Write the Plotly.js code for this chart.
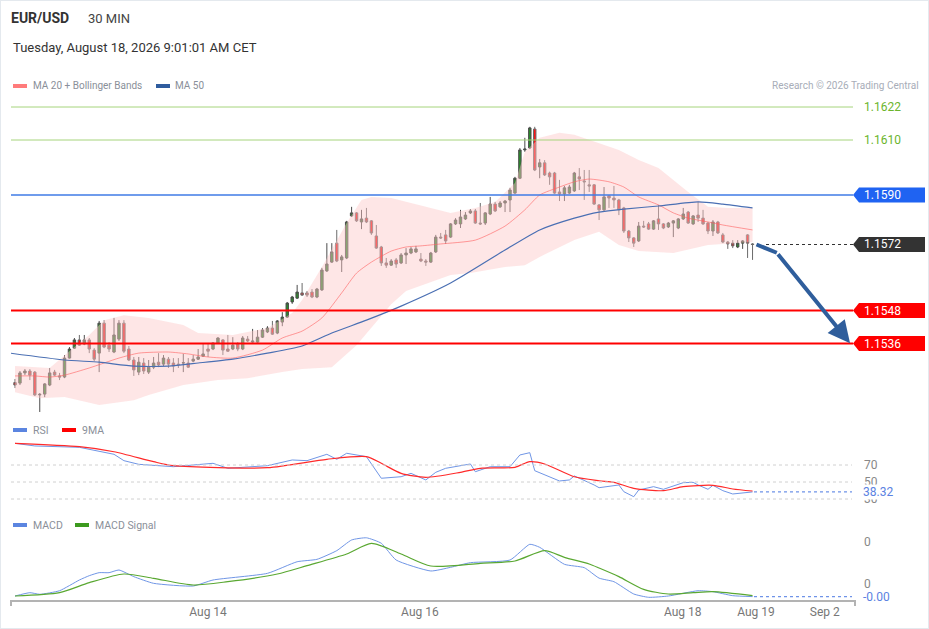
<!DOCTYPE html>
<html><head><meta charset="utf-8">
<script src="https://cdn.plot.ly/plotly-3.0.1.min.js"></script>
<style>
html,body{margin:0;padding:0;background:#fff;}
#chart{width:929px;height:629px;}
#frame{position:absolute;left:0;top:0;width:929px;height:629px;box-sizing:border-box;border:1px solid #e4e9ee;pointer-events:none;}
</style>
</head><body><div id="chart"></div><div id="frame"></div>
<script>
// ---------- DATA ----------
const opens = [
1.15218,1.15216,1.15253,1.15260,1.15256,1.15173,1.15176,1.15209,1.15256,1.15242,
1.15238,1.15307,1.15343,1.15373,1.15358,1.15373,1.15336,1.15325,1.15434,1.15354,
1.15329,1.15376,1.15434,1.15340,1.15300,1.15256,1.15289,1.15256,1.15274,1.15292,
1.15285,1.15303,1.15289,1.15285,1.15289,1.15289,1.15296,1.15303,1.15314,1.15340,
1.15340,1.15362,1.15373,1.15340,1.15340,1.15358,1.15340,1.15376,1.15365,1.15365,
1.15383,1.15402,1.15416,1.15398,1.15438,1.15456,1.15511,1.15525,1.15544,1.15544,
1.15547,1.15529,1.15555,1.15624,1.15656,1.15725,1.15664,1.15671,1.15824,1.15835,
1.15802,1.15816,1.15806,1.15751,1.15711,1.15653,1.15645,1.15664,1.15653,1.15682,
1.15689,1.15693,1.15667,1.15660,1.15656,1.15693,1.15747,1.15755,1.15747,1.15795,
1.15795,1.15813,1.15835,1.15842,1.15798,1.15798,1.15831,1.15867,1.15857,1.15871,
1.15882,1.15907,1.15961,1.16064,1.16071,1.16140,1.16002,1.16017,1.15980,1.15980,
1.15911,1.15904,1.15907,1.15915,1.15966,1.15951,1.15937,1.15937,1.15864,1.15846,
1.15897,1.15889,1.15882,1.15853,1.15769,1.15744,1.15733,1.15787,1.15795,1.15776,
1.15813,1.15795,1.15784,1.15798,1.15780,1.15813,1.15838,1.15795,1.15827,1.15816,
1.15798,1.15769,1.15802,1.15755,1.15729,1.15725,1.15711,1.15725,1.15755,1.15722];
const highs = [
1.15231,1.15260,1.15267,1.15267,1.15260,1.15180,1.15216,1.15271,1.15264,1.15253,
1.15318,1.15347,1.15380,1.15391,1.15391,1.15380,1.15343,1.15442,1.15445,1.15365,
1.15453,1.15445,1.15445,1.15351,1.15311,1.15311,1.15307,1.15300,1.15311,1.15325,
1.15318,1.15311,1.15307,1.15307,1.15322,1.15307,1.15318,1.15340,1.15358,1.15362,
1.15365,1.15383,1.15376,1.15391,1.15383,1.15365,1.15387,1.15387,1.15413,1.15409,
1.15416,1.15423,1.15442,1.15445,1.15474,1.15511,1.15533,1.15573,1.15580,1.15551,
1.15558,1.15562,1.15635,1.15725,1.15725,1.15773,1.15682,1.15806,1.15857,1.15838,
1.15846,1.15853,1.15809,1.15791,1.15715,1.15671,1.15667,1.15671,1.15689,1.15707,
1.15711,1.15715,1.15689,1.15667,1.15693,1.15755,1.15762,1.15773,1.15798,1.15816,
1.15846,1.15838,1.15849,1.15849,1.15871,1.15838,1.15893,1.15875,1.15878,1.15882,
1.15926,1.15966,1.16071,1.16108,1.16148,1.16148,1.16031,1.16027,1.15985,1.15984,
1.15955,1.15933,1.15937,1.15984,1.15998,1.15991,1.15991,1.15940,1.15867,1.15929,
1.15900,1.15933,1.15886,1.15857,1.15773,1.15747,1.15802,1.15806,1.15802,1.15809,
1.15864,1.15798,1.15802,1.15809,1.15816,1.15853,1.15842,1.15827,1.15875,1.15846,
1.15802,1.15809,1.15806,1.15762,1.15733,1.15736,1.15736,1.15736,1.15758,1.15725];
const lows = [
1.15198,1.15209,1.15245,1.15227,1.15169,1.15111,1.15165,1.15205,1.15242,1.15227,
1.15234,1.15305,1.15340,1.15351,1.15354,1.15325,1.15296,1.15256,1.15343,1.15329,
1.15325,1.15369,1.15325,1.15296,1.15242,1.15245,1.15249,1.15249,1.15267,1.15274,
1.15278,1.15271,1.15256,1.15271,1.15256,1.15271,1.15292,1.15300,1.15311,1.15311,
1.15336,1.15358,1.15318,1.15330,1.15336,1.15332,1.15336,1.15365,1.15362,1.15362,
1.15380,1.15398,1.15391,1.15394,1.15423,1.15453,1.15504,1.15522,1.15533,1.15529,
1.15525,1.15525,1.15551,1.15620,1.15653,1.15656,1.15620,1.15667,1.15820,1.15802,
1.15776,1.15798,1.15755,1.15704,1.15642,1.15635,1.15642,1.15635,1.15649,1.15649,
1.15685,1.15689,1.15656,1.15642,1.15653,1.15689,1.15740,1.15722,1.15744,1.15791,
1.15780,1.15809,1.15831,1.15795,1.15791,1.15791,1.15827,1.15838,1.15853,1.15838,
1.15838,1.15904,1.15958,1.16057,1.16067,1.15987,1.15961,1.15969,1.15937,1.15904,
1.15878,1.15878,1.15904,1.15911,1.15918,1.15882,1.15911,1.15864,1.15809,1.15842,
1.15853,1.15853,1.15827,1.15762,1.15729,1.15711,1.15729,1.15780,1.15773,1.15773,
1.15773,1.15776,1.15780,1.15747,1.15776,1.15809,1.15795,1.15791,1.15802,1.15791,
1.15758,1.15751,1.15758,1.15725,1.15704,1.15707,1.15707,1.15704,1.15671,1.15664];
const closes = [
1.15209,1.15253,1.15260,1.15245,1.15173,1.15175,1.15213,1.15253,1.15245,1.15238,
1.15307,1.15340,1.15373,1.15354,1.15373,1.15340,1.15303,1.15434,1.15347,1.15340,
1.15391,1.15434,1.15332,1.15300,1.15264,1.15292,1.15260,1.15274,1.15289,1.15282,
1.15307,1.15285,1.15278,1.15283,1.15290,1.15274,1.15303,1.15311,1.15322,1.15332,
1.15362,1.15380,1.15336,1.15332,1.15354,1.15340,1.15380,1.15369,1.15369,1.15383,
1.15409,1.15416,1.15394,1.15442,1.15456,1.15507,1.15529,1.15547,1.15536,1.15536,
1.15529,1.15558,1.15627,1.15649,1.15693,1.15660,1.15675,1.15802,1.15835,1.15806,
1.15813,1.15802,1.15762,1.15707,1.15653,1.15645,1.15660,1.15649,1.15682,1.15689,
1.15704,1.15704,1.15660,1.15656,1.15689,1.15747,1.15744,1.15733,1.15795,1.15809,
1.15820,1.15827,1.15842,1.15798,1.15795,1.15835,1.15867,1.15842,1.15871,1.15878,
1.15918,1.15961,1.16064,1.16067,1.16144,1.15991,1.16017,1.15973,1.15966,1.15907,
1.15904,1.15926,1.15929,1.15980,1.15958,1.15948,1.15933,1.15867,1.15846,1.15893,
1.15889,1.15882,1.15846,1.15769,1.15744,1.15725,1.15787,1.15784,1.15776,1.15806,
1.15795,1.15780,1.15798,1.15806,1.15813,1.15831,1.15798,1.15824,1.15816,1.15795,
1.15769,1.15802,1.15762,1.15729,1.15722,1.15715,1.15725,1.15733,1.15725,1.15720];

const ma20Idx = [0,4,7,10,15,21,25,31,35,39,44,50,54,58,62,66,69,72,76,79,82,86,93,99,103,106,110,113,116,120,123,126,130,133,136,140,143,149];
const ma20Val = [1.15242,1.15242,1.15238,1.15245,1.15271,1.15307,1.15325,1.15329,1.15322,1.15311,1.15307,1.15336,1.15380,1.15405,1.15453,1.15544,1.15616,1.15656,1.15696,1.15711,1.15715,1.15722,1.15736,1.15787,1.15846,1.15900,1.15929,1.15948,1.15958,1.15948,1.15929,1.15893,1.15864,1.15835,1.15816,1.15802,1.15791,1.15773];
const bbUpIdx = [0,7,12,15,18,22,27,34,37,44,51,56,58,62,67,70,72,76,80,84,88,93,97,101,103,106,110,113,116,122,126,130,133,136,140,144,149];
const bbUpVal = [1.15278,1.15271,1.15347,1.15391,1.15445,1.15463,1.15453,1.15427,1.15398,1.15391,1.15416,1.15471,1.15518,1.15638,1.15798,1.15882,1.15893,1.15889,1.15871,1.15853,1.15835,1.15853,1.15875,1.15944,1.16057,1.16108,1.16126,1.16119,1.16100,1.16064,1.16027,1.15998,1.15955,1.15911,1.15857,1.15853,1.15853];
const bbLoIdx = [0,5,10,17,24,27,34,41,47,54,58,64,69,72,76,79,84,88,92,99,103,106,113,118,122,126,133,140,149];
const bbLoVal = [1.15183,1.15161,1.15165,1.15136,1.15154,1.15173,1.15209,1.15227,1.15234,1.15256,1.15267,1.15274,1.15354,1.15420,1.15503,1.15551,1.15584,1.15609,1.15616,1.15638,1.15645,1.15675,1.15736,1.15766,1.15718,1.15696,1.15689,1.15718,1.15729];
const ma50Idx = [-1,10,17,24,31,37,44,51,58,64,71,78,88,99,106,113,118,123,130,138,143,149];
const ma50Val = [1.15325,1.15300,1.15292,1.15278,1.15278,1.15289,1.15303,1.15325,1.15351,1.15398,1.15445,1.15496,1.15580,1.15700,1.15773,1.15816,1.15838,1.15849,1.15860,1.15875,1.15867,1.15853];

const rsiIdx = [0,4,13,17,20,22,25,32,40,43,51,56,59,63,65,67,71,74,78,80,83,85,87,92,93,96,100,102,104,105,107,110,112,113,117,118,122,123,125,126,129,131,135,137,138,140,141,143,145,149];
const rsiVal = [95.5,92.4,90.8,85.6,82.6,75.1,70.8,68,72,66.1,69.2,75.9,75.1,82.6,76.7,83.8,79.8,54.4,56.2,60.2,52.4,61.4,66.1,71.2,62.1,68,68,81.8,84.5,63.3,58.2,51.2,52.4,57.1,46.5,43.3,46.5,38.6,32.7,40.6,44.5,41.4,49.2,49.6,46.5,41.4,46.1,39.8,35.9,38.32];
const rsiMaIdx = [0,13,20,28,32,51,63,71,74,78,83,90,94,101,104,107,113,118,121,125,131,135,141,145,149];
const rsiMaVal = [95.5,91.5,85.6,73.9,69.2,66.8,76.7,79.8,72,60.2,55.5,61.4,66.1,67.3,73.9,71.2,56.2,51.5,49.6,42.6,39.8,44.5,46.1,41.8,39.4];

const macdIdx = [0,3,5,9,13,15,17,19,21,24,28,36,40,51,57,61,65,68,71,74,77,84,88,92,100,104,106,111,115,118,121,125,128,132,138,141,145,149];
const macdVal = [-0.000286,-0.000207,-0.000245,-0.00016,0.000095,0.000198,0.00027,0.00027,0.000333,0.000175,0.000016,-0.000048,0.000095,0.000254,0.00053,0.000587,0.000794,0.001048,0.0011,0.00097,0.000571,0.00031,0.000397,0.000508,0.000571,0.000945,0.000873,0.000469,0.000389,0.00014,0.000055,-0.000238,-0.000317,-0.000286,-0.00016,-0.000183,-0.000278,-0.0003];
const sigIdx = [0,9,15,22,28,36,43,53,59,67,72,78,84,94,101,107,111,116,118,122,127,132,137,141,149];
const sigVal = [-0.000286,-0.000207,0.000032,0.000238,0.000135,-0.000024,0.000056,0.000238,0.000437,0.000714,0.000968,0.000714,0.000429,0.000492,0.000548,0.000794,0.000635,0.000476,0.00038,0.000175,-0.000127,-0.000238,-0.000206,-0.000183,-0.000278];

const tickPos = [39.0, 81.8, 134.9, 149.7, 163.6];
const tickLabels = ['Aug 14','Aug 16','Aug 18','Aug 19','Sep 2'];

const supportLevels = [1.1548, 1.1536];
const resistLevels = [1.1622, 1.1610];
const pivotLevel = 1.1590;
const lastPrice = 1.1572;
const rsiLevels = [70, 50, 30];
const rsiLast = 38.32;
const macdTickVals = [0.001, 0];
const macdTickText = ['0', '0'];
const arrowIdx = [149.8, 153.9, 168.7];
const arrowVal = [1.1572, 1.15690, 1.15361];

// ---------- LAYOUT HELPERS ----------
const X0 = 11, X1 = 855, PH = 600;
const fx = x => (x - X0) / (X1 - X0);
const fy = y => (PH - y) / PH;
const priceRange = [1.150818, 1.162455];
const pxPerPrice = 320 / (priceRange[1] - priceRange[0]);
const FONT = 'Roboto, "Liberation Sans", Arial, sans-serif';

const xIdx = opens.map((_, i) => i);

const traces = [];
traces.push({
  x: bbUpIdx.concat(bbLoIdx.slice().reverse()),
  y: bbUpVal.concat(bbLoVal.slice().reverse()),
  type: 'scatter', mode: 'lines', fill: 'toself',
  fillcolor: 'rgba(252,200,200,0.45)', line: {width: 0}, hoverinfo: 'skip',
  xaxis: 'x', yaxis: 'y'
});
traces.push({x: ma20Idx, y: ma20Val, type: 'scatter', mode: 'lines',
  line: {color: 'rgba(255,95,95,0.6)', width: 1, shape: 'spline', smoothing: 0.6}, xaxis: 'x', yaxis: 'y'});
traces.push({x: ma50Idx, y: ma50Val, type: 'scatter', mode: 'lines',
  line: {color: '#4a6fb3', width: 1.2, shape: 'spline', smoothing: 0.6}, xaxis: 'x', yaxis: 'y'});
traces.push({
  type: 'candlestick', x: xIdx, open: opens, high: highs, low: lows, close: closes,
  increasing: {line: {color: '#4d4d4d', width: 1}, fillcolor: '#2b8a2b'},
  decreasing: {line: {color: '#6b6b6b', width: 1}, fillcolor: '#ff1414'},
  whiskerwidth: 0, xaxis: 'x', yaxis: 'y', hoverinfo: 'skip'
});
traces.push({x: arrowIdx.slice(0, 2), y: arrowVal.slice(0, 2), type: 'scatter', mode: 'lines',
  line: {color: '#2f5e9c', width: 4}, xaxis: 'x', yaxis: 'y'});
traces.push({x: rsiIdx, y: rsiVal, type: 'scatter', mode: 'lines',
  line: {color: '#7096e6', width: 1}, xaxis: 'x', yaxis: 'y2'});
traces.push({x: rsiMaIdx, y: rsiMaVal, type: 'scatter', mode: 'lines',
  line: {color: '#ff2a2a', width: 1.2, shape: 'spline', smoothing: 0.7}, xaxis: 'x', yaxis: 'y2'});
traces.push({x: macdIdx, y: macdVal, type: 'scatter', mode: 'lines',
  line: {color: '#7096e6', width: 1, shape: 'spline', smoothing: 0.5}, xaxis: 'x', yaxis: 'y3'});
traces.push({x: sigIdx, y: sigVal, type: 'scatter', mode: 'lines',
  line: {color: '#5aa832', width: 1.2, shape: 'spline', smoothing: 0.7}, xaxis: 'x', yaxis: 'y3'});

const shapes = [];
const annotations = [];
const lineEnd = fx(853);

resistLevels.forEach(v => {
  shapes.push({type: 'line', xref: 'paper', yref: 'y', x0: 0, x1: lineEnd, y0: v, y1: v,
    line: {color: '#a6d47c', width: 1}});
  annotations.push({xref: 'paper', yref: 'y', x: fx(862), y: v, text: v.toFixed(4), showarrow: false,
    xanchor: 'left', yanchor: 'middle', font: {family: FONT, size: 12, color: '#6cb52d'}});
});
function tag(v, color) {
  const h = 7.5 / pxPerPrice;
  const a = fx(853), b = fx(859), c = fx(925);
  shapes.push({type: 'path', xref: 'paper', yref: 'y', fillcolor: color, line: {width: 0},
    path: `M${a},${v} L${b},${v + h} L${c},${v + h} L${c},${v - h} L${b},${v - h} Z`});
  annotations.push({xref: 'paper', yref: 'y', x: fx(862), y: v, text: v.toFixed(4), showarrow: false,
    xanchor: 'left', yanchor: 'middle', font: {family: FONT, size: 12, color: '#ffffff'}});
}
shapes.push({type: 'line', xref: 'paper', yref: 'y', x0: 0, x1: lineEnd, y0: pivotLevel, y1: pivotLevel,
  line: {color: '#3f7be6', width: 1.3}});
tag(pivotLevel, '#1f63f2');
supportLevels.forEach(v => {
  shapes.push({type: 'line', xref: 'paper', yref: 'y', x0: 0, x1: lineEnd, y0: v, y1: v,
    line: {color: '#ff0000', width: 2}});
  tag(v, '#ff0000');
});
shapes.push({type: 'line', xref: 'paper', yref: 'y', x0: fx(766), x1: lineEnd, y0: lastPrice, y1: lastPrice,
  line: {color: '#333', width: 1, dash: 'dot'}});
tag(lastPrice, '#333333');

rsiLevels.forEach(v => {
  shapes.push({type: 'line', xref: 'paper', yref: 'y2', x0: 0, x1: fx(852), y0: v, y1: v,
    line: {color: '#d0d0d0', width: 1, dash: 'dot'}});
  annotations.push({xref: 'paper', yref: 'y2', x: fx(862), y: v, text: String(v), showarrow: false,
    xanchor: 'left', yanchor: 'middle', font: {family: FONT, size: 12, color: '#888'}});
});
shapes.push({type: 'line', xref: 'paper', yref: 'y2', x0: fx(754), x1: fx(852), y0: rsiLast, y1: rsiLast,
  line: {color: '#6f93e8', width: 1.2, dash: 'dot'}});
annotations.push({xref: 'paper', yref: 'y2', x: fx(862), y: rsiLast, text: rsiLast.toFixed(2), showarrow: false,
  xanchor: 'left', yanchor: 'middle', bgcolor: '#ffffff', borderpad: 0,
  font: {family: FONT, size: 12, color: '#5b82e2'}});

macdTickVals.forEach((v, i) => {
  annotations.push({xref: 'paper', yref: 'y3', x: fx(862), y: v, text: macdTickText[i], showarrow: false,
    xanchor: 'left', yanchor: 'middle', font: {family: FONT, size: 12, color: '#888'}});
});
const macdLast = macdVal[macdVal.length - 1];
shapes.push({type: 'line', xref: 'paper', yref: 'y3', x0: fx(754), x1: fx(852), y0: macdLast, y1: macdLast,
  line: {color: '#6f93e8', width: 1.2, dash: 'dot'}});
annotations.push({xref: 'paper', yref: 'y3', x: fx(862), y: macdLast, text: '-0.00', showarrow: false,
  xanchor: 'left', yanchor: 'middle', bgcolor: '#ffffff', borderpad: 0,
  font: {family: FONT, size: 12, color: '#5b82e2'}});

[X0, X1].forEach(x => shapes.push({type: 'line', xref: 'paper', yref: 'paper', x0: fx(x), x1: fx(x),
  y0: fy(600), y1: fy(606), line: {color: '#b3b3b3', width: 2}}));

annotations.push({xref: 'x', yref: 'y', axref: 'x', ayref: 'y', x: arrowIdx[2], y: arrowVal[2],
  ax: arrowIdx[1], ay: arrowVal[1], text: '', showarrow: true, arrowhead: 2, arrowsize: 1.1,
  arrowwidth: 4, arrowcolor: '#2f5e9c', standoff: 0});

function txt(text, x, y, size, color, extra) {
  annotations.push(Object.assign({xref: 'paper', yref: 'paper', x: fx(x), y: fy(y), text: text,
    showarrow: false, xanchor: 'left', yanchor: 'middle',
    font: {family: FONT, size: size, color: color}}, extra || {}));
}
txt('<b>EUR/USD</b>', 9, 18, 14, '#333');
txt('30 MIN', 86, 18, 13, '#444');
txt('Tuesday, August 18, 2026 9:01:01 AM CET', 11, 48, 13, '#333');
txt('MA 20 + Bollinger Bands', 31, 86, 10, '#8a8f99');
txt('MA 50', 173, 86, 10, '#8a8f99');
txt('Research © 2026 Trading Central', 921, 86, 10, '#a7adb8', {xanchor: 'right'});
txt('RSI', 31, 430, 10.5, '#8a8f99');
txt('9MA', 80, 430, 10.5, '#8a8f99');
txt('MACD', 31, 525, 10.5, '#8a8f99');
txt('MACD Signal', 93, 525, 10.5, '#8a8f99');

function swatch(x, y, color) {
  shapes.push({type: 'rect', xref: 'paper', yref: 'paper', x0: fx(x), x1: fx(x + 14),
    y0: fy(y + 2), y1: fy(y - 2), fillcolor: color, line: {width: 0}});
}
swatch(13, 86, '#ff7b7b');
swatch(156, 86, '#2f5c9e');
swatch(13, 430, '#5b85e0');
swatch(62, 430, '#ff0000');
swatch(13, 525, '#5b85e0');
swatch(75, 525, '#3c9a1e');

const layout = {
  width: 929, height: 629,
  margin: {l: X0, r: 929 - X1, t: 0, b: 629 - PH},
  paper_bgcolor: '#ffffff', plot_bgcolor: '#ffffff',
  showlegend: false,
  font: {family: FONT},
  xaxis: {range: [-0.81, 169.7], showgrid: false, zeroline: false, showline: true,
    linecolor: '#b3b3b3', linewidth: 2, tickvals: tickPos, ticktext: tickLabels, ticks: '',
    tickfont: {family: FONT, size: 12, color: '#777'}, rangeslider: {visible: false},
    anchor: 'y3', fixedrange: true},
  yaxis: {domain: [fy(420), fy(100)], range: priceRange, visible: false, fixedrange: true},
  yaxis2: {domain: [fy(505), fy(440)], range: [22.94, 99.41], visible: false, fixedrange: true},
  yaxis3: {domain: [0, fy(530)], range: [-0.000381, 0.0012857], visible: false, fixedrange: true},
  shapes: shapes,
  annotations: annotations
};

Plotly.newPlot('chart', traces, layout, {staticPlot: true, displayModeBar: false});
</script></body></html>
